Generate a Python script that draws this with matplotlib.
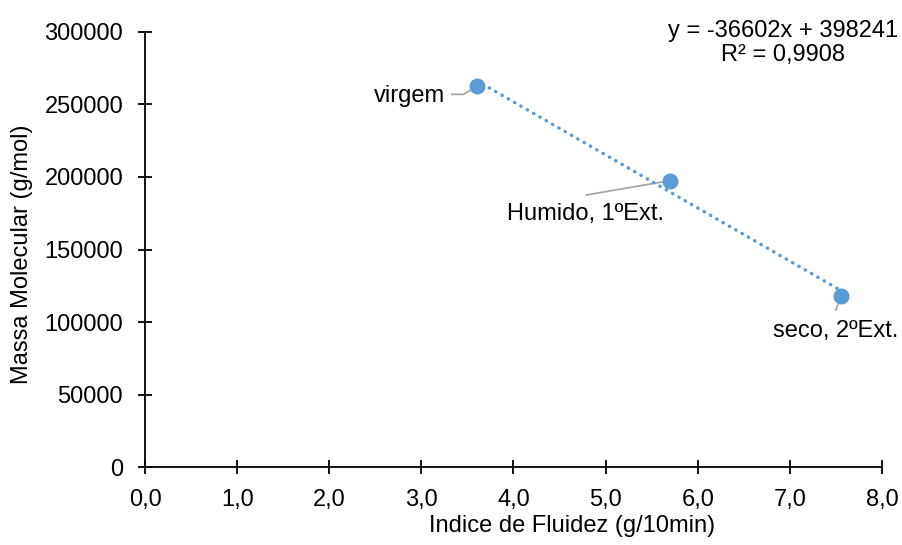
import matplotlib
matplotlib.use("Agg")
import matplotlib.pyplot as plt
import numpy as np

plt.rcParams['font.family'] = ['Liberation Sans', 'DejaVu Sans']

# Melt flow index vs. molecular mass samples
labels = ["virgem", "Humido, 1ºExt.", "seco, 2ºExt."]
fluidez = [3.60, 5.70, 7.55]
massa = [262500, 197500, 118000]

# Linear trendline coefficients and fit quality
slope = -36602
intercept = 398241
r2 = 0.9908

xticks = [0, 1, 2, 3, 4, 5, 6, 7, 8]
yticks = [0, 50000, 100000, 150000, 200000, 250000, 300000]

blue = "#5B9BD5"
grey = "#A6A6A6"
FS = 17

fig = plt.figure(figsize=(9.03, 5.45), dpi=100)
ax = fig.add_axes([0.1606, 0.1431, 0.8161, 0.7982])

# Trendline over the range of the data
xt = np.array([min(fluidez), max(fluidez)])
ax.plot(xt, slope * xt + intercept, color=blue, linestyle=(0, (0.1, 2.0)),
        linewidth=2.5, dash_capstyle='round', zorder=2)

ax.plot(fluidez, massa, 'o', color=blue, markersize=10.5, zorder=3)

ax.set_xlim(0, 8)
ax.set_ylim(0, 300000)
ax.set_xticks(xticks)
ax.set_xticklabels([f"{v:.1f}".replace(".", ",") for v in xticks])
ax.set_yticks(yticks)
ax.set_yticklabels([str(v) for v in yticks])

for side in ("top", "right"):
    ax.spines[side].set_visible(False)
for side in ("left", "bottom"):
    ax.spines[side].set_linewidth(1.3)
ax.tick_params(axis="both", direction="inout", length=9.5, width=1.3,
               labelsize=FS, colors="black")
ax.tick_params(axis="x", pad=11)
ax.tick_params(axis="y", pad=11)

# Axis titles placed in figure pixels
fig.text(572 / 903, 1 - 526 / 545, "Indice de Fluidez (g/10min)",
         ha="center", va="center", fontsize=FS)
fig.text(22 / 903, 1 - 254 / 545, "Massa Molecular (g/mol)",
         ha="center", va="center", rotation=90, fontsize=FS)

# Data labels with leader lines
label_pos = [(3.26, 256000, "right"),
             (4.78, 174500, "center"),
             (7.50, 93800, "center")]
leaders = [[(3.33, 257000), (3.46, 257000), (3.60, 262500)],
           [(4.79, 187600), (5.70, 197500)],
           [(7.50, 108300), (7.55, 117000)]]
for (lx, ly, ha), lab, pts in zip(label_pos, labels, leaders):
    ax.text(lx, ly, lab, ha=ha, va="center", fontsize=FS)
    px, py = zip(*pts)
    ax.plot(px, py, color=grey, linewidth=1.3, zorder=1)

ax.text(6.93, 300700, f"y = {slope}x + {intercept}", ha="center",
        va="center", fontsize=FS, clip_on=False)
ax.text(6.93, 284100, f"R² = {r2:.4f}".replace(".", ","), ha="center",
        va="center", fontsize=FS, clip_on=False)

fig.savefig("out.png", dpi=100)
